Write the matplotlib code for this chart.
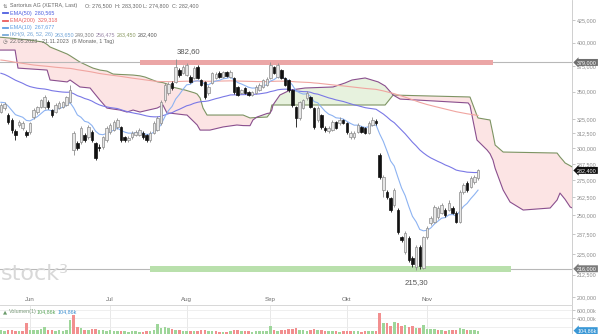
import numpy as np
import pandas as pd
import matplotlib
matplotlib.use("Agg")
import matplotlib.pyplot as plt
from matplotlib.lines import Line2D
import matplotlib.transforms as mtrans
from matplotlib.ticker import FixedLocator, FuncFormatter, NullLocator

plt.rcParams['font.family'] = ['Liberation Sans', 'DejaVu Sans']

# ---------------- data ----------------
dates = pd.bdate_range("2023-05-22", "2023-11-21")
month_names = ['Jun', 'Jul', 'Aug', 'Sep', 'Okt', 'Nov']

opens = [331.1, 334.7, 328.4, 324.0, 314.4, 319.6, 317.0, 313.6, 313.6, 326.6,
         331.1, 335.7, 335.7, 340.3, 332.9, 331.1, 334.7, 335.7, 337.5, 340.3,
         298.5, 304.3, 305.1, 311.0, 309.3, 313.6, 304.3, 301.0, 301.0, 306.8,
         313.6, 315.2, 317.9, 317.9, 309.3, 306.8, 309.3, 311.0, 311.0, 312.7,
         311.0, 306.8, 312.7, 315.2, 321.4, 342.1, 348.7, 358.4, 359.4, 371.2,
         368.2, 366.2, 364.2, 363.3, 374.2, 361.3, 359.4, 348.7, 358.4, 363.3,
         368.2, 364.2, 369.2, 364.2, 363.3, 354.5, 348.7, 353.5, 349.6, 346.8,
         348.7, 351.5, 354.5, 356.4, 363.3, 374.2, 364.2, 371.2, 363.3, 361.3,
         351.5, 335.7, 325.8, 334.7, 344.0, 344.9, 334.7, 324.0, 328.4, 317.0,
         314.4, 315.2, 322.2, 321.4, 324.0, 321.4, 309.3, 309.3, 313.6, 317.9,
         317.0, 312.7, 319.6, 323.1, 294.5, 267.7, 266.3, 261.9, 257.0, 253.5,
         235.5, 226.1, 234.9, 222.5, 217.0, 229.1, 216.5, 235.5, 244.7, 245.4,
         248.8, 251.5, 253.5, 253.5, 254.9, 251.5, 245.4, 266.3, 272.9, 269.9,
         273.6, 276.5]
closes = [337.5, 338.4, 322.2, 315.2, 311.0, 322.2, 321.4, 311.0, 321.4, 332.9,
          335.7, 342.1, 344.9, 335.7, 328.4, 337.5, 339.4, 340.3, 344.9, 351.5,
          312.7, 300.1, 317.0, 306.8, 317.9, 306.8, 292.1, 300.1, 309.3, 317.0,
          319.6, 322.2, 324.0, 306.8, 306.8, 308.5, 312.7, 313.6, 315.2, 309.3,
          306.8, 312.7, 321.4, 325.8, 340.3, 356.4, 357.4, 353.5, 374.2, 366.2,
          374.2, 376.3, 359.4, 373.2, 363.3, 356.4, 344.9, 354.5, 368.2, 367.2,
          364.2, 369.2, 365.2, 369.2, 349.6, 346.8, 351.5, 348.7, 346.8, 349.6,
          354.5, 356.4, 361.3, 362.3, 376.3, 368.2, 376.3, 363.3, 356.4, 351.5,
          337.5, 325.8, 340.3, 342.1, 348.7, 335.7, 317.9, 334.7, 317.9, 315.2,
          317.0, 322.2, 317.0, 324.0, 321.4, 313.6, 312.7, 312.7, 319.6, 313.6,
          312.7, 321.4, 324.0, 321.4, 277.4, 277.4, 262.6, 253.5, 267.7, 238.8,
          233.6, 238.2, 221.2, 218.8, 229.1, 217.6, 235.5, 241.4, 248.0, 255.6,
          254.9, 257.0, 250.1, 258.4, 251.5, 245.4, 266.3, 271.4, 267.7, 276.6,
          277.4, 282.4]
highs = [339.5, 340.2, 330.0, 325.5, 316.0, 323.8, 323.0, 315.0, 322.5, 334.5,
         337.0, 343.5, 346.5, 342.0, 334.0, 339.0, 341.0, 341.5, 346.0, 356.4,
         314.5, 306.0, 318.5, 312.5, 319.5, 315.0, 305.5, 303.5, 310.5, 318.5,
         321.0, 324.0, 326.0, 319.0, 310.5, 310.0, 314.0, 315.5, 317.0, 314.0,
         312.0, 314.0, 323.0, 327.5, 342.0, 358.0, 359.5, 360.5, 382.6, 373.0,
         376.0, 378.0, 366.0, 375.0, 376.0, 362.5, 360.5, 356.0, 369.5, 369.0,
         370.0, 370.5, 370.5, 371.0, 364.5, 355.5, 353.0, 354.5, 351.0, 351.0,
         356.0, 358.0, 362.5, 364.0, 379.4, 375.5, 378.0, 372.5, 364.5, 362.5,
         353.0, 337.0, 341.5, 343.5, 350.5, 346.0, 336.0, 336.5, 329.5, 318.5,
         318.5, 324.0, 323.5, 327.0, 325.0, 322.5, 314.0, 314.5, 321.0, 319.0,
         318.0, 323.0, 327.0, 325.0, 296.0, 279.0, 268.0, 263.0, 269.0, 255.0,
         236.5, 239.5, 236.0, 223.5, 230.5, 230.5, 236.5, 242.5, 249.5, 257.0,
         256.0, 258.5, 255.0, 260.5, 256.0, 252.5, 267.5, 273.0, 274.0, 278.0,
         279.0, 283.3]
lows = [329.8, 333.0, 320.5, 313.0, 306.5, 318.0, 315.5, 309.0, 312.0, 325.0,
        329.5, 334.5, 334.0, 334.0, 326.5, 330.0, 333.5, 334.5, 336.5, 339.0,
        294.5, 298.5, 303.5, 305.0, 308.0, 305.0, 290.5, 297.5, 299.5, 305.5,
        312.0, 314.0, 316.5, 305.0, 305.0, 305.5, 308.0, 310.0, 310.0, 308.0,
        305.5, 305.5, 311.5, 314.0, 320.0, 340.5, 347.0, 352.0, 358.0, 364.5,
        367.0, 365.0, 358.0, 362.0, 362.0, 355.0, 343.5, 347.0, 357.0, 362.0,
        363.0, 363.0, 364.0, 363.0, 348.0, 345.5, 347.5, 347.5, 345.5, 345.5,
        347.5, 350.5, 353.5, 355.5, 362.0, 367.0, 363.0, 362.0, 355.0, 350.0,
        336.0, 317.9, 324.0, 333.5, 342.5, 334.5, 316.0, 322.5, 316.5, 313.5,
        313.0, 314.0, 316.0, 320.0, 320.5, 312.0, 308.0, 308.0, 312.5, 312.5,
        311.5, 311.5, 318.5, 320.0, 275.5, 262.6, 261.0, 252.0, 255.5, 237.5,
        232.5, 225.0, 220.0, 217.0, 215.3, 216.0, 215.8, 234.5, 243.5, 244.5,
        247.5, 250.5, 249.0, 252.5, 250.5, 244.5, 244.5, 265.0, 266.5, 269.0,
        272.5, 274.8]
volume_k = [110, 95, 120, 130, 100, 90, 105, 280, 120, 110,
            130, 140, 200, 120, 110, 100, 115, 105, 130, 360,
            480, 190, 180, 130, 120, 140, 150, 120, 110, 100,
            115, 90, 85, 100, 95, 80, 85, 90, 75, 80,
            95, 90, 110, 265, 180, 190, 170, 150, 130, 110,
            100, 95, 90, 100, 85, 110, 120, 95, 90, 85,
            80, 75, 80, 85, 110, 120, 90, 85, 95, 80,
            85, 90, 95, 100, 215, 110, 100, 120, 130, 140,
            150, 160, 130, 110, 100, 120, 140, 110, 120, 100,
            90, 95, 85, 80, 90, 100, 95, 85, 90, 80,
            85, 95, 90, 85, 540, 290, 280, 225, 320, 290,
            215, 240, 200, 210, 170, 160, 240, 150, 140, 150,
            120, 110, 100, 120, 110, 120, 175, 150, 110, 120,
            115, 104.86]

# EMA starting values (read at the left edge of the chart)
ema10_start, ema50_start, ema200_start = 340.0, 368.0, 381.5
# values printed in the chart legend
ema50_label, ema200_label, ema10_label = '280,565', '329,318', '267,677'
ikh_labels = ['263,650', '249,300', '256,475', '283,450', '282,400']
volume_label = '104,86k'

# Ichimoku cloud (Senkou span B = green, span A = purple), read at day positions
cloud_pos = [-0.3, 3.9, 4.7, 7.5, 11.6, 12.7, 13.5, 18.2, 19.0, 21.7, 24.5, 25.3, 27.2,
             29.1, 30.8, 32.7, 34.6, 36.3, 38.2, 39.6, 42.9, 44.5, 45.6, 47.0, 50.6,
             51.1, 53.3, 53.9, 54.7, 55.5, 56.6, 57.4, 61.0, 64.8, 66.5, 68.4, 69.2,
             70.3, 73.1, 73.9, 74.4, 74.7, 76.6, 79.4, 83.5, 91.2, 94.5, 96.4, 100.0,
             103.6, 105.5, 107.7, 109.6, 120.0, 128.3, 128.8, 130.7, 131.0, 133.5,
             134.3, 135.1, 135.7, 137.9, 139.8, 143.4, 150.8, 152.7, 153.5, 154.4,
             154.9, 156.3, 156.9]
span_b = [406.0, 404.5, 404.0, 403.0, 400.7, 398.0, 395.3, 387.8, 386.0, 379.4, 374.5, 373.2, 371.2,
          370.2, 367.2, 366.8, 366.5, 366.2, 365.4, 364.2, 359.6, 358.7, 357.4, 354.5, 351.5,
          351.0, 348.7, 347.7, 344.0, 334.7, 328.4, 328.4, 328.4, 328.4, 328.4, 325.8, 326.0,
          326.2, 326.6, 330.0, 337.5, 337.5, 337.5, 337.5, 337.5, 337.5, 337.5, 337.5, 337.5,
          337.5, 337.5, 346.8, 346.6, 345.7, 345.0, 344.9, 328.0, 325.8, 324.4,
          324.0, 312.0, 302.6, 296.9, 296.8, 296.6, 296.2, 296.1, 293.0, 290.0,
          288.2, 286.0, 285.0]
span_a = [392.0, 392.0, 373.2, 372.5, 371.5, 371.2, 361.3, 359.4, 361.3, 354.5, 353.5, 350.0, 342.0,
          334.7, 333.8, 332.9, 331.1, 332.9, 331.1, 332.2, 334.7, 337.5, 330.2, 329.9, 328.5,
          328.4, 321.5, 319.6, 315.2, 315.2, 315.2, 315.2, 317.9, 319.6, 319.1, 319.0, 324.0,
          326.6, 329.8, 330.2, 333.0, 337.5, 346.8, 351.5, 353.5, 354.5, 358.4, 361.3, 363.3,
          359.4, 355.5, 346.8, 343.0, 341.0, 339.4, 337.0, 306.8, 305.9, 298.5,
          295.5, 290.5, 284.0, 267.7, 259.1, 253.5, 254.9, 260.5, 265.5, 262.6,
          261.0, 255.6, 254.9]

resistance, support = 379.0, 216.0
resistance_band = (38.2, 135.1, 376.8, 381.2)
support_band = (41.0, 140.1, 214.3, 217.6)
high_mark, low_mark = 382.60, 215.30
high_label, low_label = '382,60', '215,30'

price_ticks = [450, 425, 400, 375, 350, 325, 312.5, 300, 287.5, 275, 262.5, 250,
               237.5, 225, 212.5, 200]
vol_ticks = [400, 600]
vol_grid = [200, 400, 600]

# ---------------- helpers ----------------
W, H = 600, 334
def fx(x):
    return x / W
def fy(y):
    return 1 - y / H

def ema(values, span, start):
    a = 2.0 / (span + 1)
    out = [start]
    for v in values[1:]:
        out.append(out[-1] + a * (v - out[-1]))
    return np.array(out)

n = len(closes)
idx = np.arange(n)
o = np.array(opens); c = np.array(closes)
hi = np.array(highs); lo = np.array(lows)
vol = np.array(volume_k)
cp = np.array(cloud_pos); sb = np.array(span_b); sa = np.array(span_a)

ema10 = ema(closes, 10, ema10_start)
ema50 = ema(closes, 50, ema50_start)
ema200 = ema(closes, 200, ema200_start)

month_idx = [i for i in range(1, n) if dates[i].month != dates[i - 1].month]

XL = (-0.24, 156.8)
x_right = 572

fig = plt.figure(figsize=(6, 3.34), dpi=100)
ax = fig.add_axes([0, fy(305), fx(x_right), 305 / H])
axv = fig.add_axes([0, 0, fx(x_right), 29 / H])

# ---------------- main chart ----------------
ax.set_yscale('log')
ax.set_ylim(195.7, 449.3)
ax.set_xlim(*XL)

# cloud
ax.fill_between(cp, sb, sa, where=sb >= sa, interpolate=True, color='#fce4e4', lw=0, zorder=1)
ax.fill_between(cp, sb, sa, where=sb < sa, interpolate=True, color='#e7f2de', lw=0, zorder=1)
ax.plot(cp, sb, color='#7d9463', lw=0.8, zorder=1.5)
ax.plot(cp, sa, color='#8a4f8e', lw=0.8, zorder=1.5)

# horizontal levels
ax.axhline(resistance, color='#b8b8b8', lw=0.8, zorder=2)
ax.axhline(support, color='#b8b8b8', lw=0.8, zorder=2)
x0, x1, y0, y1 = resistance_band
ax.fill_between([x0, x1], y0, y1, color='#eba6a6', lw=0, zorder=2.1)
x0, x1, y0, y1 = support_band
ax.fill_between([x0, x1], y0, y1, color='#b9e0ac', lw=0, zorder=2.1)

# EMAs
ax.plot(idx, ema200, color='#f0a5a0', lw=0.8, zorder=3)
ax.plot(idx, ema50, color='#7a78e6', lw=0.8, zorder=3)
ax.plot(idx, ema10, color='#8db3f2', lw=0.8, zorder=3)

# candles
up = c >= o
wick_col = np.where(up, '#8c8c8c', '#111111')
ax.vlines(idx, lo, hi, colors=wick_col, lw=0.6, zorder=4)
bottoms = np.minimum(o, c)
heights = np.maximum(np.abs(c - o), 0.3)
ax.bar(idx[up], heights[up], bottom=bottoms[up], width=0.68,
       color='#e6e6e6', edgecolor='#8c8c8c', linewidth=0.5, zorder=5)
ax.bar(idx[~up], heights[~up], bottom=bottoms[~up], width=0.68,
       color='#111111', edgecolor='#111111', linewidth=0.5, zorder=5)

# axes styling
for s in ['top', 'left', 'bottom']:
    ax.spines[s].set_visible(False)
ax.spines['right'].set_color('#c8c8c8')
ax.spines['right'].set_linewidth(0.6)
ax.set_xticks([])
ax.yaxis.set_ticks_position('right')
ax.yaxis.set_major_locator(FixedLocator(price_ticks))
ax.yaxis.set_minor_locator(NullLocator())
ax.yaxis.set_major_formatter(FuncFormatter(lambda v, p: f'{v:.3f}'.replace('.', ',')))
ax.tick_params(axis='y', direction='out', length=2, width=0.5, colors='#b0b0b0',
               labelcolor='#8a8a8a', labelsize=3.9, pad=1.5)

# month labels
trans = mtrans.blended_transform_factory(ax.transData, ax.transAxes)
for m, name in zip(month_idx, month_names):
    ax.text(m, 0.0164, name, transform=trans, ha='center', va='center',
            fontsize=4.4, color='#6a6a6a')

# separator line between panels
fig.add_artist(Line2D([0, fx(x_right)], [fy(305), fy(305)], color='#d8d8d8', lw=0.6))

# extreme labels
imax = int(np.argmax(hi)); imin = int(np.argmin(lo))
ax.annotate(high_label, xy=(imax, high_mark), xytext=(9.5, 5), textcoords='offset points',
            ha='center', va='center', fontsize=5.6, color='#555555')
ax.annotate(low_label, xy=(imin, low_mark), xytext=(0, -9.4), textcoords='offset points',
            ha='center', va='center', fontsize=5.6, color='#555555')

# watermark
fig.text(fx(1), fy(274), 'stock³', fontsize=16, color='#d8d8d8', ha='left', va='center',
         family='DejaVu Sans', zorder=0)

# ---------------- volume ----------------
prev = np.concatenate([[o[0]], c[:-1]])
vcol = np.where(c >= prev, '#9ed69a', '#f28f8f')
axv.bar(idx, vol, width=0.7, color=vcol, zorder=2)
axv.set_xlim(*XL)
axv.set_ylim(24, 720)
for m in month_idx:
    axv.axvline(m, color='#e4e4e4', lw=0.6, zorder=0)
for g in vol_grid:
    axv.axhline(g, color='#ececec', lw=0.6, zorder=0)
for s in ['left', 'bottom']:
    axv.spines[s].set_visible(False)
axv.spines['top'].set_color('#d8d8d8'); axv.spines['top'].set_linewidth(0.6)
axv.spines['right'].set_color('#c8c8c8'); axv.spines['right'].set_linewidth(0.6)
axv.set_xticks([])
axv.yaxis.set_ticks_position('right')
axv.yaxis.set_major_locator(FixedLocator(vol_ticks))
axv.yaxis.set_major_formatter(FuncFormatter(lambda v, p: f'{v:.2f}k'.replace('.', ',')))
axv.tick_params(axis='y', direction='out', length=2, width=0.5, colors='#b0b0b0',
                labelcolor='#8a8a8a', labelsize=3.9, pad=1.5)

# ---------------- value tags on the right axis ----------------
def tag(yv, text, fc, axis):
    disp = axis.transData.transform((0, yv))[1]
    fig.text(fx(587), disp / fig.bbox.height, text, ha='center', va='center', fontsize=3.9,
             color='white', zorder=10,
             bbox=dict(boxstyle='larrow,pad=0.18', fc=fc, ec='none'))

tag(resistance, f'{resistance:.3f}'.replace('.', ','), '#6f6f6f', ax)
tag(closes[-1], f'{closes[-1]:.3f}'.replace('.', ','), '#111111', ax)
tag(support, f'{support:.3f}'.replace('.', ','), '#7a7a7a', ax)
tag(volume_k[-1], volume_label, '#3b98d6', axv)

# ---------------- legend text ----------------
fs = 3.9
def t(x, y, s, col, **kw):
    fig.text(fx(x), fy(y), s, fontsize=fs, color=col, ha='left', va='center', **kw)

t(2.5, 6, '⇅', '#666666', family='DejaVu Sans')
t(10, 6, 'Sartorius AG (XETRA, Last)', '#666666')
t(85, 6, f'O: {opens[-1]:.3f}'.replace('.', ','), '#666666')
t(115, 6, f'H: {highs[-1]:.3f}'.replace('.', ','), '#666666')
t(143, 6, f'L: {lows[-1]:.3f}'.replace('.', ','), '#666666')
t(172, 6, f'C: {closes[-1]:.3f}'.replace('.', ','), '#666666')

def legline(y, col):
    fig.add_artist(Line2D([fx(3), fx(7.5)], [fy(y), fy(y)], color=col, lw=1.3))

legline(13.3, '#4e5fe0'); t(10, 13.3, 'EMA(50)  ' + ema50_label, '#4e5fe0')
legline(20.5, '#ea5a5a'); t(10, 20.5, 'EMA(200)  ' + ema200_label, '#ea5a5a')
legline(27.6, '#5f9ee3'); t(10, 27.6, 'EMA(10)  ' + ema10_label, '#5f9ee3')
legline(34.7, '#7aaad8')
t(10, 34.7, 'IKH(9, 26, 52, 26)', '#6fa3d6')
ikh_x = [55, 75, 96, 117, 138]
ikh_col = ['#6fa3d6', '#808080', '#9a88a8', '#8a9a62', '#555555']
for xx, s, col in zip(ikh_x, ikh_labels, ikh_col):
    t(xx, 34.7, s, col)
t(2.5, 41.7, '◷', '#666666', family='DejaVu Sans')
t(10, 41.7, '22.05.2023 - 21.11.2023  (6 Monate, 1 Tag)', '#666666')

# volume legend
t(2.5, 312, '▲', '#6a9a6a', family='DejaVu Sans')
t(9, 312, 'Volumen(1)', '#7a9a7a')
t(37, 312, volume_label, '#5aa55a')
t(58, 312, volume_label, '#3b8fd0')

fig.savefig('out.png', dpi=100, facecolor='white')
